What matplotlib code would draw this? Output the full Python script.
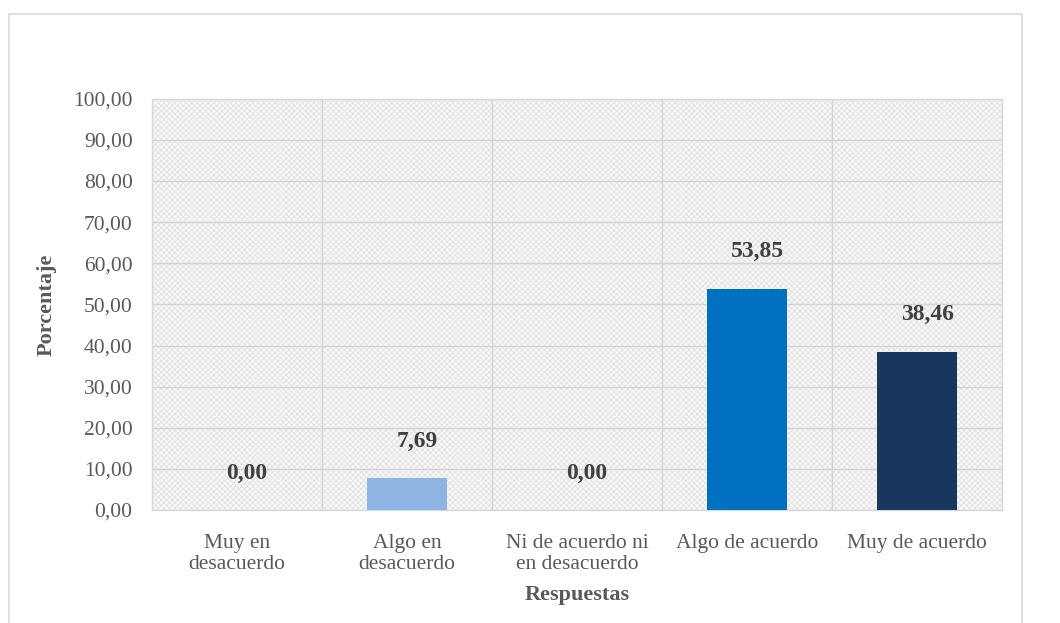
import matplotlib
matplotlib.use("Agg")
import matplotlib.pyplot as plt
from matplotlib.patches import Rectangle

# respuestas y porcentajes
categorias = ["Muy en\ndesacuerdo", "Algo en\ndesacuerdo", "Ni de acuerdo ni\nen desacuerdo",
              "Algo de acuerdo", "Muy de acuerdo"]
porcentajes = [0.00, 7.69, 0.00, 53.85, 38.46]
colores = ["#8DB4E2", "#8DB4E2", "#0070C0", "#0070C0", "#17375E"]
yticks = list(range(0, 101, 10))

plt.rcParams["font.family"] = ["Liberation Serif", "DejaVu Serif"]
plt.rcParams["hatch.linewidth"] = 0.6
plt.rcParams["hatch.color"] = "#e4e4e4"

fig = plt.figure(figsize=(10.6, 6.23), dpi=100)
# marco exterior del grafico
fig.patches.append(Rectangle((9 / 1060, -0.05), 1013 / 1060, 1.05 - 14 / 623,
                             transform=fig.transFigure, fill=False,
                             edgecolor="#d9d9d9", linewidth=1.2))

ax = fig.add_axes([0.1434, 0.1814, 0.802, 0.66])
ax.set_facecolor("#f7f7f7")
ax.add_patch(Rectangle((0, 0), 1, 1, transform=ax.transAxes, facecolor="none",
                       edgecolor="#e2e2e2", hatch="xxxxxx", linewidth=0, zorder=0))

x = list(range(len(categorias)))
ax.bar(x, porcentajes, width=0.47, color=colores, zorder=3)

for xi, v in zip(x, porcentajes):
    ax.annotate(f"{v:.2f}".replace(".", ","), (xi, v), xytext=(10, 37),
                textcoords="offset pixels", ha="center", va="center",
                fontsize=17, fontweight="bold", color="#404040", zorder=4)

ax.set_xlim(-0.5, len(categorias) - 0.5)
ax.set_ylim(0, 100)
ax.set_yticks(yticks)
ax.set_yticklabels([f"{t:.2f}".replace(".", ",") for t in yticks])
ax.set_xticks(x)
ax.set_xticklabels(categorias, linespacing=1.15)
ax.tick_params(axis="both", length=0, labelsize=15.5, labelcolor="#595959")
ax.tick_params(axis="y", pad=14)
ax.tick_params(axis="x", pad=17)

# cuadricula horizontal y separadores entre categorias
ax.yaxis.grid(True, color="#d4d4d4", linewidth=1.0, zorder=1)
ax.set_axisbelow(True)
for b in [i + 0.5 for i in x[:-1]]:
    ax.axvline(b, color="#d4d4d4", linewidth=1.0, zorder=1)
for s in ax.spines.values():
    s.set_color("#d9d9d9")
    s.set_linewidth(1.0)

ax.set_xlabel("Respuestas", fontsize=16, fontweight="bold", color="#595959", labelpad=8)
ax.set_ylabel("Porcentaje", fontsize=16, fontweight="bold", color="#595959", labelpad=12)

fig.savefig("out.png", dpi=100)
